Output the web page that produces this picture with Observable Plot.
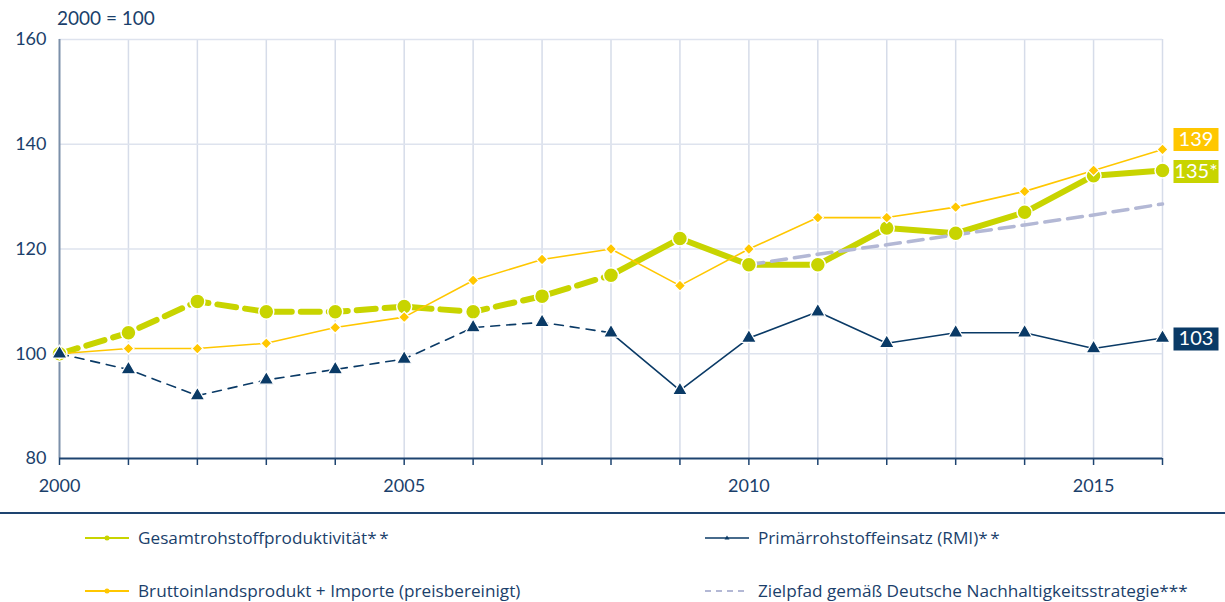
<!DOCTYPE html>
<html>
<head>
<meta charset="utf-8">
<script src="https://cdn.jsdelivr.net/npm/d3@7"></script>
<script src="https://cdn.jsdelivr.net/npm/@observablehq/plot@0.6"></script>
<style>
  html, body { margin: 0; padding: 0; background: #fff; }
  body { width: 1225px; height: 602px; position: relative; overflow: hidden; font-family: Lato, "Noto Sans", sans-serif; color: #1B3F6B; }
  #chart { position: absolute; left: 0; top: 0; }
  #unit { position: absolute; left: 57px; top: 6px; font-size: 19px; }
  #sep { position: absolute; left: 0; top: 512px; width: 1225px; height: 2px; background: #1E4470; }
  .leg { position: absolute; font-family: "Open Sans", Lato, sans-serif; font-size: 17.2px; display: flex; align-items: center; white-space: nowrap; }
  .leg svg { margin-right: 9px; }
  .ast { letter-spacing: 2.5px; }
</style>
</head>
<body>
<div id="chart"></div>
<div id="unit">2000 = 100</div>
<div id="sep"></div>
<div id="legend"></div>
<script>
const years = [2000, 2001, 2002, 2003, 2004, 2005, 2006, 2007, 2008, 2009, 2010, 2011, 2012, 2013, 2014, 2015, 2016];
const gesamt = [100, 104, 110, 108, 108, 109, 108, 111, 115, 122, 117, 117, 124, 123, 127, 134, 135];
const bip = [100, 101, 101, 102, 105, 107, 114, 118, 120, 113, 120, 126, 126, 128, 131, 135, 139];
const rmi = [100, 97, 92, 95, 97, 99, 105, 106, 104, 93, 103, 108, 102, 104, 104, 101, 103];
const zielYears = [2010, 2011, 2012, 2013, 2014, 2015, 2016];
const ziel = [117, 119, 120.8, 122.7, 124.6, 126.5, 128.6];
const xTickLabels = [2000, 2005, 2010, 2015];
const yTicks = [80, 100, 120, 140, 160];
const endYear = 2016;
const endValues = [139, 135, 103];
const endTexts = ["139", "135*", "103"];
const seriesNames = ["Gesamtrohstoffproduktivität", "Bruttoinlandsprodukt + Importe (preisbereinigt)", "Primärrohstoffeinsatz (RMI)", "Zielpfad gemäß Deutsche Nachhaltigkeitsstrategie"];
const seriesNotes = ["**", "", "**", "***"];

const GREEN = "#C8D400", YELLOW = "#FFC700", NAVY = "#0A3A66", ZIEL = "#B3B8D5";
const endColors = [YELLOW, GREEN, NAVY];

const rows = (vals) => years.map((y, i) => ({year: y, value: vals[i]}));
const G = rows(gesamt), B = rows(bip), R = rows(rmi);
const Z = zielYears.map((y, i) => ({year: y, value: ziel[i]}));
const dashedPart = (arr) => arr.filter(d => d.year <= 2008);
const solidPart = (arr) => arr.filter(d => d.year >= 2008);
const ends = endValues.map((v, i) => ({year: endYear, value: v, text: endTexts[i], color: endColors[i]}));

const boxSymbol = { draw(ctx) { ctx.rect(-22.5, -11.5, 45, 23); } };

const plot = Plot.plot({
  width: 1225,
  height: 505,
  marginLeft: 59,
  marginRight: 63,
  marginTop: 39,
  marginBottom: 47,
  style: { fontFamily: "Lato, 'Noto Sans', sans-serif", fontSize: "18px", color: "#1B3F6B", background: "transparent", overflow: "visible" },
  x: { domain: [2000, 2016], label: null },
  y: { domain: [80, 160], label: null },
  marks: [
    Plot.ruleX(years.slice(1), {stroke: "#D6DCE9", strokeWidth: 1.5}),
    Plot.ruleY(yTicks.slice(1), {stroke: "#DEE3EE", strokeWidth: 1.5}),
    Plot.ruleX([2000], {stroke: "#7C90AA", strokeWidth: 2}),
    Plot.ruleY([80], {stroke: "#1E4470", strokeWidth: 2}),
    Plot.axisX({ticks: years, tickSize: 7, stroke: "#1E4470", strokeWidth: 1.5, tickFormat: () => "", label: null}),
    Plot.axisX({ticks: xTickLabels, tickSize: 0, tickPadding: 21, tickFormat: d => String(d), label: null}),
    Plot.axisY({ticks: yTicks, tickSize: 0, tickPadding: 13, label: null}),
    Plot.line(dashedPart(G), {x: "year", y: "value", stroke: GREEN, strokeWidth: 6, strokeDasharray: "19,9"}),
    Plot.line(solidPart(G), {x: "year", y: "value", stroke: GREEN, strokeWidth: 6}),
    Plot.line(Z, {x: "year", y: "value", stroke: ZIEL, strokeWidth: 3.5, strokeDasharray: "15,8"}),
    Plot.line(B, {x: "year", y: "value", stroke: YELLOW, strokeWidth: 1.6}),
    Plot.line(dashedPart(R), {x: "year", y: "value", stroke: NAVY, strokeWidth: 1.6, strokeDasharray: "9,7"}),
    Plot.line(solidPart(R), {x: "year", y: "value", stroke: NAVY, strokeWidth: 1.6}),
    Plot.dot(G, {x: "year", y: "value", r: 7.5, fill: GREEN, stroke: "white", strokeWidth: 1.5}),
    Plot.dot(B, {x: "year", y: "value", r: 5, symbol: "diamond2", fill: YELLOW, stroke: "white", strokeWidth: 1.2}),
    Plot.dot(R, {x: "year", y: "value", r: 5.5, symbol: "triangle", fill: NAVY, stroke: "white", strokeWidth: 1.2}),
    Plot.dot(ends.filter(d => d.text === "139"), {x: "year", y: "value", symbol: boxSymbol, fill: d => d.color, dx: 33.5, dy: -10}),
    Plot.dot(ends.filter(d => d.text !== "139"), {x: "year", y: "value", symbol: boxSymbol, fill: d => d.color, dx: 33.5, dy: 1}),
    Plot.text(ends.filter(d => d.text === "139"), {x: "year", y: "value", text: "text", fill: "white", fontSize: 20, dx: 33.5, dy: -10}),
    Plot.text(ends.filter(d => d.text !== "139"), {x: "year", y: "value", text: "text", fill: "white", fontSize: 20, dx: 33.5, dy: 1})
  ]
});
document.getElementById("chart").appendChild(plot);

// Legend
const legendItems = [
  {i: 0, color: GREEN, kind: "dot", left: 85, top: 526},
  {i: 1, color: YELLOW, kind: "dot", left: 85, top: 579},
  {i: 2, color: NAVY, kind: "tri", left: 705, top: 526},
  {i: 3, color: ZIEL, kind: "dash", left: 705, top: 579}
];
const legend = document.getElementById("legend");
for (const it of legendItems) {
  const div = document.createElement("div");
  div.className = "leg";
  div.style.left = it.left + "px";
  div.style.top = it.top + "px";
  let sym;
  if (it.kind === "dash") {
    sym = `<line x1="0" y1="6" x2="44" y2="6" stroke="${it.color}" stroke-width="2" stroke-dasharray="6,5"/>`;
  } else if (it.kind === "tri") {
    sym = `<line x1="0" y1="6" x2="44" y2="6" stroke="${it.color}" stroke-width="1.6"/><path d="M22,3.5 L24.5,7.5 L19.5,7.5 Z" fill="${it.color}"/>`;
  } else {
    sym = `<line x1="0" y1="6" x2="44" y2="6" stroke="${it.color}" stroke-width="1.8"/><circle cx="22" cy="6" r="2.5" fill="${it.color}"/>`;
  }
  const note = seriesNotes[it.i];
  const noteHtml = note ? `<span class="${note.length === 2 ? "ast" : ""}">${note}</span>` : "";
  div.innerHTML = `<svg width="44" height="12">${sym}</svg><span>${seriesNames[it.i]}${noteHtml}</span>`;
  legend.appendChild(div);
}
</script>
</body>
</html>
